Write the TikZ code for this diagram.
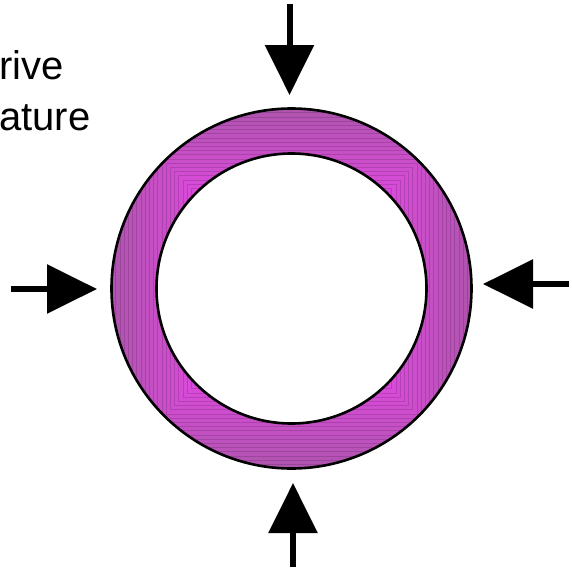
\documentclass[tikz,border=0pt]{standalone}
\usepackage{fontspec}
\setmainfont{Liberation Sans}
\usetikzlibrary{arrows.meta}
\definecolor{ringout}{RGB}{176,84,176}
\definecolor{ringin}{RGB}{220,74,220}
\tikzset{
  bigarrow/.style={line width=6pt, -{Triangle[width=48pt,length=50pt]}},
  rimline/.style={line width=2.6pt, draw=black},
  lbl/.style={anchor=base west, inner sep=0pt, font=\fontsize{40}{48}\selectfont}
}
\begin{document}
\begin{tikzpicture}[x=1pt,y=-1pt]
\useasboundingbox (0,0) rectangle (571,573);
\coordinate (c) at (291.5,288.5);
% ring fill with square gradient
\begin{scope}[even odd rule]
\clip (c) circle[radius=180pt] (c) circle[radius=135pt];
\foreach \i in {0,...,20}{
  \pgfmathsetmacro\s{180-\i*4.2}
  \pgfmathsetmacro\p{100-\i*5}
  \filldraw[fill=ringout!\p!ringin, draw=ringout!\p!ringin!85!black, line width=0.7pt]
    ([shift={(-\s,-\s)}]c) rectangle ([shift={(\s,\s)}]c);
}
\end{scope}
\draw[rimline] (c) circle[radius=180pt];
\draw[rimline, fill=white] (c) circle[radius=135pt];
% arrows
\coordinate (t0) at (289.5,4);  \coordinate (t1) at (289.5,95);
\coordinate (b0) at (293,567);  \coordinate (b1) at (293,483);
\coordinate (l0) at (11,289);   \coordinate (l1) at (97,289);
\coordinate (r0) at (569,284);  \coordinate (r1) at (483,284);
\draw[bigarrow] (t0) -- (t1);
\draw[bigarrow] (b0) -- (b1);
\draw[bigarrow] (l0) -- (l1);
\draw[bigarrow] (r0) -- (r1);
% text
\node[lbl] (txt1) at (-1,79) {rive};
\node[lbl] (txt2) at (-1,130) {ature};
\end{tikzpicture}
\end{document}
